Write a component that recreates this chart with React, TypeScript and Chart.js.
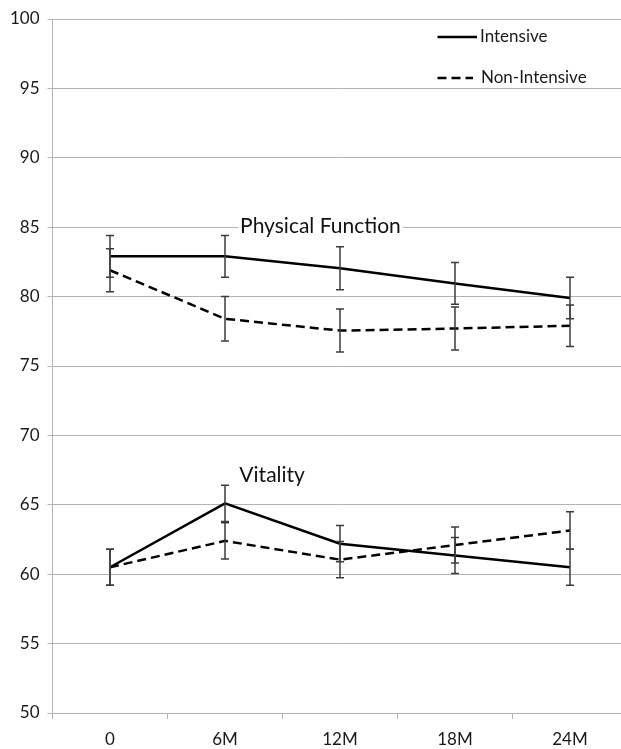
import React, { useEffect, useRef } from 'react';
import { Chart, registerables } from 'chart.js';

Chart.register(...registerables);

const categories = ['0', '6M', '12M', '18M', '24M'];

const physicalIntensive = [82.9, 82.9, 82.05, 80.95, 79.9];
const physicalIntensiveErr = [1.5, 1.5, 1.55, 1.5, 1.5];
const physicalNonIntensive = [81.9, 78.4, 77.55, 77.7, 77.9];
const physicalNonIntensiveErr = [1.55, 1.6, 1.55, 1.55, 1.5];

const vitalityIntensive = [60.5, 65.1, 62.2, 61.35, 60.5];
const vitalityIntensiveErr = [1.3, 1.3, 1.3, 1.3, 1.3];
const vitalityNonIntensive = [60.5, 62.4, 61.05, 62.1, 63.15];
const vitalityNonIntensiveErr = [1.3, 1.3, 1.3, 1.3, 1.35];

const yMin = 50;
const yMax = 100;
const yStep = 5;

const legendLabels = ['Intensive', 'Non-Intensive'];
const annotationLabels = ['Physical Function', 'Vitality'];

const FONT = 'Lato, "Open Sans", sans-serif';
const GRID = '#b4b4b4';
const DASH = [9, 5];

const errorBarPlugin = {
  id: 'errorBars',
  afterDatasetsDraw(chart: any) {
    const ctx = chart.ctx;
    const yScale = chart.scales.y;
    ctx.save();
    ctx.strokeStyle = '#3c3c3c';
    ctx.lineWidth = 1.5;
    chart.data.datasets.forEach((ds: any, di: number) => {
      const meta = chart.getDatasetMeta(di);
      ds.errors.forEach((e: number, i: number) => {
        const v = ds.data[i];
        const x = meta.data[i].x;
        const yTop = yScale.getPixelForValue(v + e);
        const yBot = yScale.getPixelForValue(v - e);
        ctx.beginPath();
        ctx.moveTo(x, yTop);
        ctx.lineTo(x, yBot);
        ctx.moveTo(x - 4, yTop);
        ctx.lineTo(x + 4, yTop);
        ctx.moveTo(x - 4, yBot);
        ctx.lineTo(x + 4, yBot);
        ctx.stroke();
      });
    });
    ctx.restore();
  },
};

const overlayPlugin = {
  id: 'overlay',
  afterDraw(chart: any) {
    const ctx = chart.ctx;
    const xs = chart.scales.x;
    const ys = chart.scales.y;
    ctx.save();
    // annotations
    ctx.font = `21px ${FONT}`;
    ctx.textAlign = 'center';
    ctx.textBaseline = 'middle';
    const pfX = xs.getPixelForValue(1.83);
    const pfY = ys.getPixelForValue(85.05);
    const w1 = ctx.measureText(annotationLabels[0]).width;
    ctx.fillStyle = '#ffffff';
    ctx.fillRect(pfX - w1 / 2 - 2, pfY - 11, w1 + 4, 22);
    ctx.fillStyle = '#111111';
    ctx.fillText(annotationLabels[0], pfX, pfY);
    const vX = xs.getPixelForValue(1.41);
    const vY = ys.getPixelForValue(67.15);
    ctx.fillText(annotationLabels[1], vX, vY);

    // legend
    const lx0 = 437.5;
    ctx.strokeStyle = '#000000';
    ctx.lineWidth = 2.5;
    ctx.beginPath();
    ctx.moveTo(lx0, 37);
    ctx.lineTo(477, 37);
    ctx.stroke();
    ctx.setLineDash(DASH);
    ctx.beginPath();
    ctx.moveTo(lx0, 78);
    ctx.lineTo(473, 78);
    ctx.stroke();
    ctx.setLineDash([]);
    ctx.font = `17px ${FONT}`;
    ctx.textAlign = 'left';
    ctx.fillStyle = '#1a1a1a';
    ctx.fillText(legendLabels[0], 480, 37);
    ctx.fillText(legendLabels[1], 481, 78);
    ctx.restore();
  },
};

export default function App() {
  const ref = useRef<HTMLCanvasElement | null>(null);

  useEffect(() => {
    if (!ref.current) return;
    const mk = (data: number[], errors: number[], dashed: boolean, label: string) => ({
      label,
      data,
      errors,
      borderColor: '#000000',
      backgroundColor: '#000000',
      borderWidth: 2.5,
      borderDash: dashed ? DASH : [],
      pointRadius: 0,
      pointHoverRadius: 0,
      tension: 0,
      fill: false,
    });
    const chart = new Chart(ref.current, {
      type: 'line',
      data: {
        labels: categories,
        datasets: [
          mk(physicalIntensive, physicalIntensiveErr, false, legendLabels[0]),
          mk(physicalNonIntensive, physicalNonIntensiveErr, true, legendLabels[1]),
          mk(vitalityIntensive, vitalityIntensiveErr, false, legendLabels[0]),
          mk(vitalityNonIntensive, vitalityNonIntensiveErr, true, legendLabels[1]),
        ] as any,
      },
      options: {
        responsive: false,
        animation: false,
        layout: { padding: { top: 19, right: 12.5, bottom: 0, left: 0 } },
        plugins: {
          legend: { display: false },
          tooltip: { enabled: false },
        },
        scales: {
          x: {
            type: 'category',
            offset: true,
            grid: {
              offset: true,
              drawOnChartArea: false,
              drawTicks: true,
              tickLength: 6,
              color: GRID,
            },
            border: { color: GRID },
            ticks: {
              color: '#1a1a1a',
              font: { family: FONT, size: 17 },
              padding: 10,
            },
            afterFit(scale: any) {
              scale.height = 36;
            },
          },
          y: {
            min: yMin,
            max: yMax,
            ticks: {
              stepSize: yStep,
              color: '#1a1a1a',
              font: { family: FONT, size: 17 },
              padding: 8,
            },
            grid: { color: GRID, tickLength: 5 },
            border: { color: GRID },
            afterFit(scale: any) {
              scale.width = 52.5;
            },
          },
        },
      },
      plugins: [errorBarPlugin, overlayPlugin],
    });
    return () => chart.destroy();
  }, []);

  return (
    <div style={{ position: 'fixed', left: 0, top: 0, width: 621, height: 749, overflow: 'hidden', background: '#fff' }}>
      <canvas ref={ref} width={640} height={749} style={{ display: 'block' }} />
    </div>
  );
}
